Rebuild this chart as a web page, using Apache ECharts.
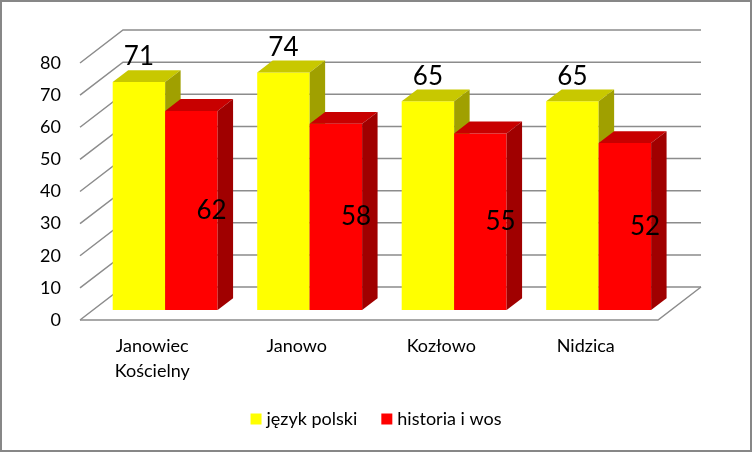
<!DOCTYPE html>
<html>
<head>
<meta charset="utf-8">
<script src="https://cdn.jsdelivr.net/npm/echarts@6/dist/echarts.min.js"></script>
<style>
  html, body { margin: 0; padding: 0; background: #fff; }
  #wrap { position: relative; width: 752px; height: 452px; }
  #chart { position: absolute; left: 0; top: 0; width: 752px; height: 452px; }
  #frame { position: absolute; left: 0; top: 0; width: 752px; height: 452px;
           box-sizing: border-box; border: 2px solid #878787; pointer-events: none; }
</style>
</head>
<body>
<div id="wrap">
  <div id="chart"></div>
  <div id="frame"></div>
</div>
<script>
const categories = ['Janowiec\nKościelny', 'Janowo', 'Kozłowo', 'Nidzica'];
const jezykPolski = [71, 74, 65, 65];
const historiaWos = [62, 58, 55, 52];
const yTicks = [0, 10, 20, 30, 40, 50, 60, 70, 80];

// oblique "3D" depth of the plot box, in pixels
const DX = 43, DY = -33;
const BAR_Z0 = 0.30, BAR_DEPTH = 0.36, BAR_FRAC = 0.363;
const FONT = 'Lato, "Open Sans", sans-serif';

const chart = echarts.init(document.getElementById('chart'));

function wallItem(params, api) {
    const cs = params.coordSys;
    const v = api.value(1);
    const y = api.coord([0, v])[1];
    const x0 = cs.x, x1 = cs.x + cs.width;
    const style = { stroke: '#8c8c8c', lineWidth: 1.5, fill: null };
    const children = [{
        type: 'polyline',
        shape: { points: [[x0, y], [x0 + DX, y + DY], [x1 + DX, y + DY]] },
        style: style
    }];
    if (v === 0) {
        children.push({
            type: 'polyline',
            shape: { points: [[x0, y], [x1, y], [x1 + DX, y + DY]] },
            style: style
        });
    }
    return { type: 'group', children: children };
}

function barItem(colors, side, labelPos) {
    return function (params, api) {
        const idx = api.value(0), v = api.value(1);
        const top = api.coord([idx, v]);
        const base = api.coord([idx, 0]);
        const w = api.size([1, 0])[0] * BAR_FRAC;
        const x = top[0] + (side < 0 ? -w : 0) + BAR_Z0 * DX;
        const yT = top[1] + BAR_Z0 * DY;
        const yB = base[1] + BAR_Z0 * DY;
        const dx = BAR_DEPTH * DX, dy = BAR_DEPTH * DY;
        let lx, ly;
        if (labelPos === 'top') { lx = x + w / 2; ly = yT - 25; }
        else { lx = x + w - 6; ly = (yT + yB) / 2; }
        return {
            type: 'group',
            children: [
                { type: 'rect', shape: { x: x, y: yT, width: w, height: yB - yT },
                  style: { fill: colors[0] } },
                { type: 'polygon', shape: { points: [[x, yT], [x + w, yT], [x + w + dx, yT + dy], [x + dx, yT + dy]] },
                  style: { fill: colors[1] } },
                { type: 'polygon', shape: { points: [[x + w, yT], [x + w + dx, yT + dy], [x + w + dx, yB + dy], [x + w, yB]] },
                  style: { fill: colors[2] } },
                { type: 'text', x: lx, y: ly,
                  style: { text: String(v), fill: '#000', font: '26px ' + FONT, align: 'center', verticalAlign: 'middle' } }
            ]
        };
    };
}

chart.setOption({
    animation: false,
    textStyle: { fontFamily: FONT },
    grid: { left: 80, right: 94, top: 63, bottom: 132 },
    legend: {
        data: ['język polski', 'historia i wos'],
        bottom: 19,
        left: 'center',
        icon: 'rect',
        itemWidth: 11,
        itemHeight: 11,
        itemGap: 24,
        textStyle: { fontSize: 18, color: '#000', fontFamily: FONT }
    },
    xAxis: {
        type: 'category',
        data: categories,
        axisLine: { show: false },
        axisTick: { show: false },
        axisLabel: { color: '#000', fontSize: 18, lineHeight: 25, margin: 14, interval: 0, fontFamily: FONT }
    },
    yAxis: {
        type: 'value',
        min: 0, max: 80, interval: 10,
        axisLine: { show: false },
        axisTick: { show: false },
        splitLine: { show: false },
        axisLabel: { color: '#000', fontSize: 18, margin: 19, fontFamily: FONT }
    },
    series: [
        {
            type: 'custom', name: 'walls', z: 1, silent: true,
            renderItem: wallItem,
            data: yTicks.map(v => [0, v])
        },
        {
            type: 'custom', name: 'język polski', z: 2,
            itemStyle: { color: '#FFFF00' },
            renderItem: barItem(['#FFFF00', '#C8C800', '#A0A000'], -1, 'top'),
            data: jezykPolski.map((v, i) => [i, v])
        },
        {
            type: 'custom', name: 'historia i wos', z: 3,
            itemStyle: { color: '#FF0000' },
            renderItem: barItem(['#FF0000', '#C80000', '#A00000'], 1, 'mid'),
            data: historiaWos.map((v, i) => [i, v])
        }
    ]
});
</script>
</body>
</html>
